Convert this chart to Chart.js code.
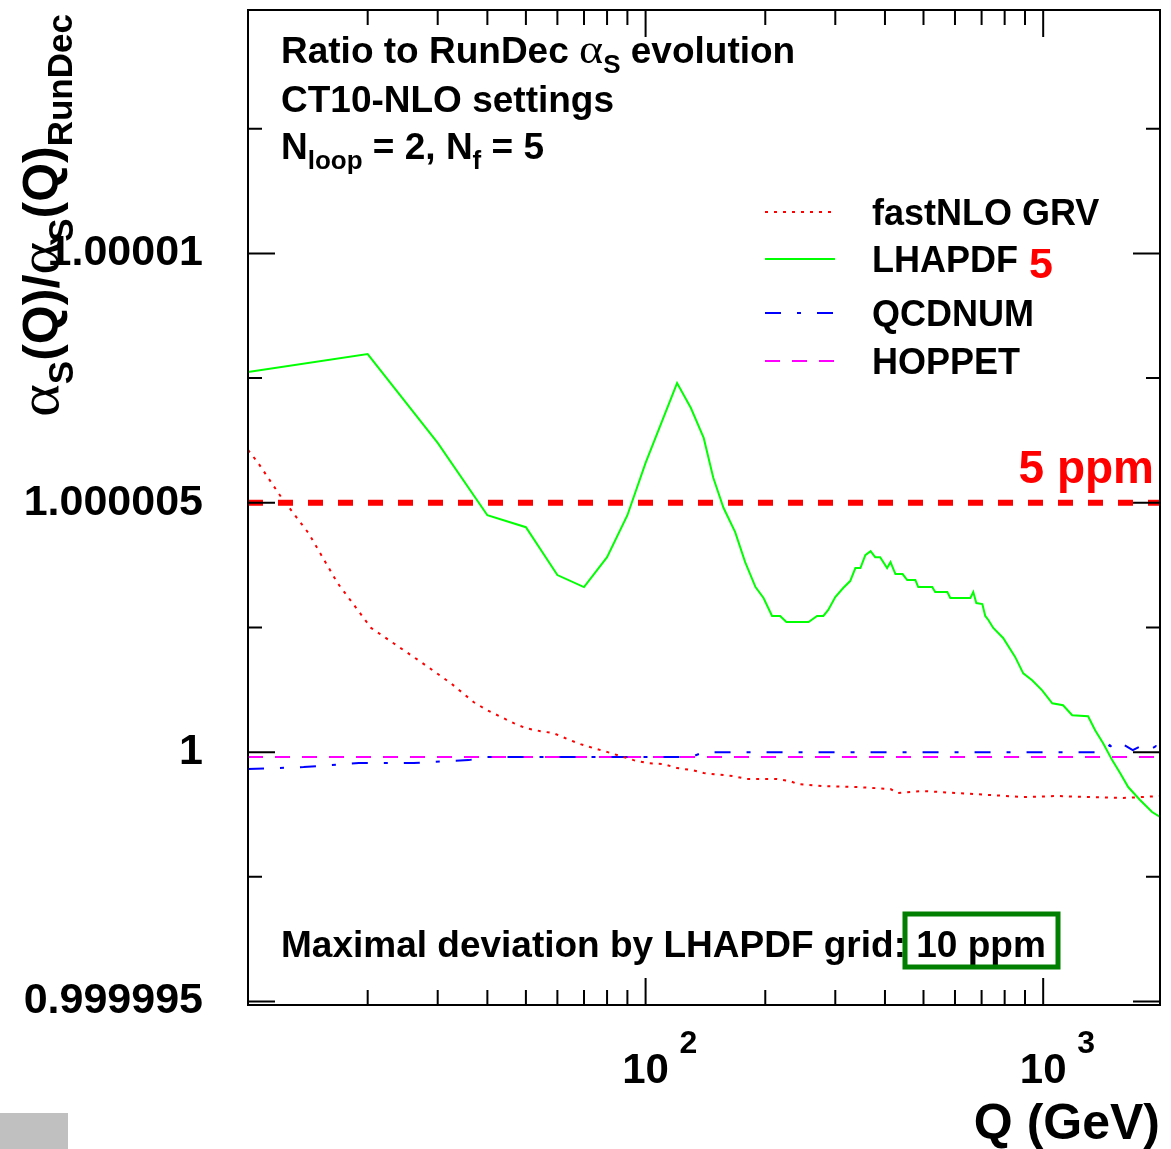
<!DOCTYPE html>
<html>
<head>
<meta charset="utf-8">
<title>alpha_s ratio to RunDec</title>
<script src="https://cdn.jsdelivr.net/npm/chart.js@4.4.1/dist/chart.umd.min.js"></script>
<style>
  body { margin: 0; background: #fff; }
  canvas { display: block; }
</style>
</head>
<body>
<canvas id="ratio-chart" width="1171" height="1149"></canvas>
<script>
// Q range (GeV) and ratio range of the plot
const qMin = 10;
const qMax = 1967;
const yMin = 0.99999493;
const yMax = 1.00001488;

// axis ticks
const yLabelTicks = [0.999995, 1, 1.000005, 1.00001];
const yMinorTicks = [0.9999975, 1.0000025, 1.0000075, 1.0000125];
const xLabelTicks = [100, 1000];
const xMinorTicks = [20, 30, 40, 50, 60, 70, 80, 90, 200, 300, 400, 500, 600, 700, 800, 900];

// 5 ppm limit
const limitRatio = 1.000005;

// fastNLO GRV
const qGRV = [10, 10.6, 12.1, 14.2, 16.8, 20.4, 27.2, 32.4, 37, 40,
  46.6, 50, 54.4, 58.7, 63.7, 68.6, 74, 80.3, 86.5, 93.3,
  101, 111, 120, 131, 140, 166, 180, 214, 231, 241,
  280, 341, 413, 430, 499, 608, 736, 891, 1084, 1313,
  1588, 1967];
const rGRV = [1.00000606, 1.0000058, 1.00000512, 1.00000439, 1.00000339, 1.00000249, 1.00000181, 1.00000138, 1.000001, 1.00000084,
  1.00000058, 1.00000048, 1.00000042, 1.00000038, 1.00000026, 1.00000016, 1.00000008, 1.0, 0.99999992, 0.99999984,
  0.99999978, 0.99999976, 0.99999968, 0.99999964, 0.99999958, 0.99999952, 0.99999946, 0.99999946, 0.99999942, 0.99999936,
  0.99999932, 0.9999993, 0.99999926, 0.99999918, 0.99999922, 0.99999918, 0.99999914, 0.9999991, 0.99999912, 0.9999991,
  0.99999908, 0.99999912];

// LHAPDF
const qLHAPDF = [10, 20, 30, 40, 50, 60, 70, 80, 90, 100,
  120, 130, 140, 148, 157, 168, 178, 189, 198, 208,
  218, 226, 257, 270, 280, 288, 300, 314, 327, 337,
  347, 357, 368, 378, 389, 405, 413, 425, 443, 455,
  477, 485, 526, 535, 574, 584, 656, 667, 679, 703,
  715, 728, 749, 793, 850, 891, 938, 994, 1054, 1122,
  1183, 1297, 1351, 1415, 1491, 1561, 1636, 1752, 1879, 1967];
const rLHAPDF = [1.00000762, 1.00000798, 1.0000062, 1.00000475, 1.00000451, 1.00000355, 1.00000331, 1.00000391, 1.00000475, 1.0000058,
  1.0000074, 1.0000069, 1.0000063, 1.0000055, 1.0000049, 1.00000441, 1.00000381, 1.00000331, 1.00000309, 1.00000273,
  1.00000273, 1.00000261, 1.00000261, 1.00000273, 1.00000273, 1.00000285, 1.00000311, 1.00000329, 1.00000343, 1.00000369,
  1.00000369, 1.00000395, 1.00000403, 1.00000391, 1.00000391, 1.00000369, 1.00000381, 1.00000357, 1.00000357, 1.00000345,
  1.00000345, 1.00000331, 1.00000331, 1.00000321, 1.00000321, 1.00000309, 1.00000309, 1.00000321, 1.00000299, 1.00000297,
  1.00000273, 1.00000265, 1.00000249, 1.00000229, 1.00000191, 1.00000158, 1.00000144, 1.00000124, 1.00000098, 1.00000094,
  1.00000074, 1.00000072, 1.00000044, 1.00000018, 0.99999984, 0.99999958, 0.9999993, 0.99999904, 0.9999988, 0.9999987];

// QCDNUM
const qQCDNUM = [10, 13.8, 19, 26.1, 28.3, 35.9, 40, 130, 140, 400,
  1000, 1400, 1470, 1520, 1600, 1680, 1760, 1850, 1920, 1967];
const rQCDNUM = [0.99999966, 0.9999997, 0.99999978, 0.99999978, 0.9999998, 0.99999984, 0.9999999, 0.9999999, 1.0, 1.0,
  1.0, 1.0, 1.00000014, 1.00000004, 1.00000014, 1.00000004, 1.00000012, 1.00000004, 1.00000012, 1.00000006];

// HOPPET
const qHOPPET = [10, 100, 1000, 1967];
const rHOPPET = [0.9999999, 0.9999999, 0.9999999, 0.9999999];

const SANS = '"Liberation Sans", Arial, Helvetica, sans-serif';
const SERIF = '"Liberation Serif", "Times New Roman", serif';
Chart.defaults.font.family = SANS;
Chart.defaults.color = '#000';

function toPoints(qs, rs) {
  return qs.map((q, i) => ({ x: q, y: rs[i] }));
}

// draws text pieces one after another (for sub/superscripts)
function drawParts(ctx, x, y, parts) {
  let cx = x;
  parts.forEach(p => {
    const sx = p.sx || 1;
    ctx.font = p.font;
    ctx.save();
    ctx.translate(cx, y + (p.dy || 0));
    ctx.scale(sx, 1);
    ctx.fillText(p.t, 0, 0);
    ctx.restore();
    cx += ctx.measureText(p.t).width * sx;
  });
}

const b = size => 'bold ' + size + 'px ' + SANS;

const decorPlugin = {
  id: 'decor',
  afterDatasetsDraw(chart) {
    const ctx = chart.ctx;
    const { left, right, top, bottom } = chart.chartArea;
    const xs = chart.scales.x;
    const ys = chart.scales.y;
    ctx.save();
    ctx.strokeStyle = '#000';
    ctx.lineWidth = 2;
    ctx.setLineDash([]);
    ctx.beginPath();
    yLabelTicks.forEach(v => {
      const py = ys.getPixelForValue(v);
      ctx.moveTo(left, py); ctx.lineTo(left + 27, py);
      ctx.moveTo(right, py); ctx.lineTo(right - 27, py);
    });
    yMinorTicks.forEach(v => {
      const py = ys.getPixelForValue(v);
      ctx.moveTo(left, py); ctx.lineTo(left + 14, py);
      ctx.moveTo(right, py); ctx.lineTo(right - 14, py);
    });
    xLabelTicks.forEach(v => {
      const px = xs.getPixelForValue(v);
      ctx.moveTo(px, bottom); ctx.lineTo(px, bottom - 27);
      ctx.moveTo(px, top); ctx.lineTo(px, top + 27);
    });
    xMinorTicks.forEach(v => {
      const px = xs.getPixelForValue(v);
      ctx.moveTo(px, bottom); ctx.lineTo(px, bottom - 15);
      ctx.moveTo(px, top); ctx.lineTo(px, top + 15);
    });
    ctx.stroke();
    ctx.strokeRect(left, top, right - left, bottom - top);
    ctx.restore();
  },
  afterDraw(chart) {
    const ctx = chart.ctx;
    const xs = chart.scales.x;
    ctx.save();
    ctx.fillStyle = '#000';
    ctx.textAlign = 'left';
    ctx.textBaseline = 'alphabetic';

    // exponents of the x tick labels
    xLabelTicks.forEach(v => {
      ctx.font = b(32);
      ctx.fillText(String(Math.round(Math.log10(v))), xs.getPixelForValue(v) + 34, 1053);
    });

    // header text
    drawParts(ctx, 281, 63, [
      { t: 'Ratio to RunDec ', font: b(37) },
      { t: 'α', font: '40px ' + SERIF, sx: 1.15 },
      { t: 'S', font: b(26), dy: 10 },
      { t: ' evolution', font: b(37) }
    ]);
    drawParts(ctx, 281, 112, [{ t: 'CT10-NLO settings', font: b(37) }]);
    drawParts(ctx, 281, 159, [
      { t: 'N', font: b(37) },
      { t: 'loop', font: b(26), dy: 10 },
      { t: ' = 2, N', font: b(37) },
      { t: 'f', font: b(26), dy: 10 },
      { t: ' = 5', font: b(37) }
    ]);

    // legend
    const legendY = [212, 259, 313, 361];
    const series = chart.data.datasets.filter(d => d.inLegend);
    series.forEach((d, i) => {
      const y = legendY[i];
      ctx.strokeStyle = d.borderColor;
      ctx.lineWidth = d.borderWidth;
      ctx.setLineDash(d.borderDash || []);
      ctx.beginPath();
      ctx.moveTo(765, y);
      ctx.lineTo(835, y);
      ctx.stroke();
      ctx.setLineDash([]);
      ctx.fillStyle = '#000';
      ctx.font = b(36);
      ctx.fillText(d.label, 872, y + 13);
    });
    ctx.fillStyle = '#ff0000';
    ctx.font = b(43);
    ctx.fillText('5', 1029, 278);

    // limit label
    ctx.font = b(46);
    ctx.textAlign = 'right';
    ctx.fillText('5 ppm', 1154, 483);

    // footer note with box
    ctx.textAlign = 'left';
    ctx.fillStyle = '#000';
    drawParts(ctx, 281, 957, [{ t: 'Maximal deviation by LHAPDF grid: 10 ppm', font: b(37) }]);
    ctx.strokeStyle = '#007f00';
    ctx.lineWidth = 5;
    ctx.strokeRect(905, 914, 153, 53);

    // y axis title, rotated
    ctx.save();
    ctx.translate(58, 417);
    ctx.rotate(-Math.PI / 2);
    ctx.fillStyle = '#000';
    drawParts(ctx, 0, 0, [
      { t: 'α', font: '56px ' + SERIF, sx: 1.12 },
      { t: 'S', font: b(35), dy: 15 },
      { t: '(Q)/', font: b(50) },
      { t: 'α', font: '56px ' + SERIF, sx: 1.12 },
      { t: 'S', font: b(35), dy: 15 },
      { t: '(Q)', font: b(50) },
      { t: 'RunDec', font: b(35), dy: 14 }
    ]);
    ctx.restore();

    // grey patch in the corner
    ctx.fillStyle = '#c0c0c0';
    ctx.fillRect(0, 1113, 68, 36);
    ctx.restore();
  }
};

const ctx = document.getElementById('ratio-chart').getContext('2d');
const chart = new Chart(ctx, {
  type: 'line',
  data: {
    datasets: [
      {
        label: '5 ppm',
        inLegend: false,
        data: [{ x: qMin, y: limitRatio }, { x: qMax, y: limitRatio }],
        borderColor: '#ff0000',
        borderWidth: 6,
        borderDash: [15, 15]
      },
      {
        label: 'fastNLO GRV',
        inLegend: true,
        data: toPoints(qGRV, rGRV),
        borderColor: '#ff0000',
        borderWidth: 2,
        borderDash: [3, 6]
      },
      {
        label: 'LHAPDF',
        inLegend: true,
        data: toPoints(qLHAPDF, rLHAPDF),
        borderColor: '#00ff00',
        borderWidth: 2,
        borderDash: []
      },
      {
        label: 'QCDNUM',
        inLegend: true,
        data: toPoints(qQCDNUM, rQCDNUM),
        borderColor: '#0000ff',
        borderWidth: 2,
        borderDash: [16, 16, 4, 16]
      },
      {
        label: 'HOPPET',
        inLegend: true,
        data: toPoints(qHOPPET, rHOPPET),
        borderColor: '#ff00ff',
        borderWidth: 2,
        borderDash: [15, 12]
      }
    ]
  },
  options: {
    responsive: false,
    animation: false,
    devicePixelRatio: 1,
    elements: {
      point: { radius: 0 },
      line: { tension: 0, fill: false }
    },
    layout: { padding: { top: 10, right: 11, left: 0, bottom: 0 } },
    plugins: {
      legend: { display: false },
      tooltip: { enabled: false }
    },
    scales: {
      x: {
        type: 'logarithmic',
        position: 'bottom',
        min: qMin,
        max: qMax,
        grid: { display: false, drawTicks: false },
        border: { display: false },
        afterBuildTicks: s => { s.ticks = xLabelTicks.map(v => ({ value: v })); },
        ticks: {
          autoSkip: false,
          maxRotation: 0,
          minRotation: 0,
          padding: 41,
          color: '#000',
          font: { size: 42, weight: 'bold' },
          callback: () => '10'
        },
        title: {
          display: true,
          text: 'Q (GeV)',
          align: 'end',
          color: '#000',
          font: { size: 50, weight: 'bold' },
          padding: { top: 0, bottom: -6 }
        },
        afterFit: s => {
          s.height = 144;
          s.paddingLeft = 0;
          s.paddingRight = 0;
        }
      },
      y: {
        type: 'linear',
        min: yMin,
        max: yMax,
        grid: { display: false, drawTicks: false },
        border: { display: false },
        afterBuildTicks: s => { s.ticks = yLabelTicks.map(v => ({ value: v })); },
        ticks: {
          padding: 45,
          color: '#000',
          font: { size: 43, weight: 'bold' },
          callback: v => String(Number(v.toFixed(7)))
        },
        afterFit: s => {
          s.width = 248;
          s.paddingTop = 0;
          s.paddingBottom = 0;
        }
      }
    }
  },
  plugins: [decorPlugin]
});
</script>
</body>
</html>
